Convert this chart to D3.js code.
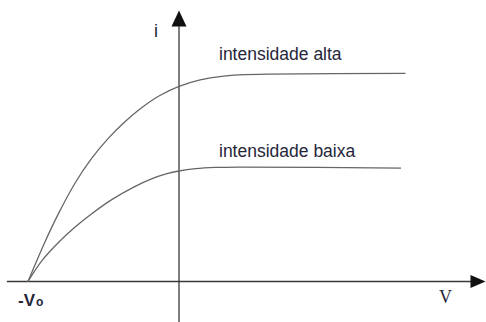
<!DOCTYPE html>
<html>
<head>
<meta charset="utf-8">
<script src="https://cdn.jsdelivr.net/npm/d3@7"></script>
<style>
  html, body { margin: 0; padding: 0; background: #fff; }
  svg { display: block; }
</style>
</head>
<body>
<svg id="chart" width="486" height="322"></svg>
<script>
// Photocurrent i versus applied voltage V for two light intensities
// (voltage in units of the stopping potential V0, current normalised to the high-intensity saturation).
const vHigh = [-1, -0.89, -0.8, -0.69, -0.58, -0.47, -0.36, -0.25, -0.13, 0, 0.14, 0.27, 0.4, 0.6, 1.5];
const iHigh = [0, 0.186, 0.323, 0.47, 0.589, 0.685, 0.765, 0.832, 0.891, 0.936, 0.967, 0.983, 0.991, 0.995, 0.998];

const vLow = [-1, -0.91, -0.8, -0.69, -0.58, -0.44, -0.3, -0.19, -0.08, 0, 0.11, 0.24, 0.4, 1.47];
const iLow = [0, 0.098, 0.186, 0.26, 0.324, 0.395, 0.453, 0.49, 0.517, 0.53, 0.541, 0.547, 0.549, 0.544];

const seriesLabels = ["intensidade alta", "intensidade baixa"];
const axisLabels = { y: "i", x: "V", stop: "-V", stopSub: "o" };

// Extent of the drawn axes (data units)
const vAxisExtent = [-1.14, 2.03];
const iAxisExtent = [-0.195, 1.3];

const svg = d3.select("#chart");

const x = d3.scaleLinear().domain([-1, 0]).range([28, 179]);
const y = d3.scaleLinear().domain([0, 1]).range([281.5, 73]);

const axisColor = "#3a3a3a";
const curveColor = "#666";
const textColor = "#26263a";

// Horizontal (V) axis with arrow head
const xEnd = x(vAxisExtent[1]);
svg.append("line")
  .attr("x1", x(vAxisExtent[0])).attr("x2", xEnd - 10)
  .attr("y1", y(0)).attr("y2", y(0))
  .attr("stroke", axisColor).attr("stroke-width", 1.3);
svg.append("path")
  .attr("d", `M${xEnd},${y(0)} L${xEnd - 15},${y(0) - 6.5} L${xEnd - 15},${y(0) + 6.5} Z`)
  .attr("fill", "#111");

// Vertical (i) axis with arrow head
const yTop = y(iAxisExtent[1]);
svg.append("line")
  .attr("x1", x(0)).attr("x2", x(0))
  .attr("y1", y(iAxisExtent[0])).attr("y2", yTop + 10)
  .attr("stroke", axisColor).attr("stroke-width", 1.3);
svg.append("path")
  .attr("d", `M${x(0)},${yTop} L${x(0) - 7.5},${yTop + 16} L${x(0) + 7.5},${yTop + 16} Z`)
  .attr("fill", "#111");

// Curves (smoothed through the sampled points)
const line = d3.line()
  .x(d => x(d[0]))
  .y(d => y(d[1]))
  .curve(d3.curveCatmullRom.alpha(0.5));

[[vHigh, iHigh], [vLow, iLow]].forEach(([vs, is]) => {
  svg.append("path")
    .datum(vs.map((v, k) => [v, is[k]]))
    .attr("d", line)
    .attr("fill", "none")
    .attr("stroke", curveColor)
    .attr("stroke-width", 1.3);
});

// Curve labels
const labelFont = "'Liberation Sans', Arial, sans-serif";
svg.append("text")
  .attr("x", 219).attr("y", 60)
  .attr("font-family", labelFont).attr("font-size", 17.5)
  .attr("fill", textColor)
  .text(seriesLabels[0]);
svg.append("text")
  .attr("x", 219).attr("y", 157)
  .attr("font-family", labelFont).attr("font-size", 17.5)
  .attr("fill", textColor)
  .text(seriesLabels[1]);

// Axis labels
svg.append("text")
  .attr("x", 154).attr("y", 37)
  .attr("font-family", labelFont).attr("font-size", 18)
  .attr("fill", textColor)
  .text(axisLabels.y);

svg.append("text")
  .attr("x", 439).attr("y", 303)
  .attr("font-family", "'Liberation Serif', 'Times New Roman', serif").attr("font-size", 18)
  .attr("fill", textColor)
  .text(axisLabels.x);

const stop = svg.append("text")
  .attr("x", 18).attr("y", 305.5)
  .attr("font-family", labelFont).attr("font-weight", "bold")
  .attr("fill", textColor);
stop.append("tspan").attr("font-size", 17).text(axisLabels.stop);
stop.append("tspan").attr("font-size", 12).attr("dx", 1).text(axisLabels.stopSub);
</script>
</body>
</html>
